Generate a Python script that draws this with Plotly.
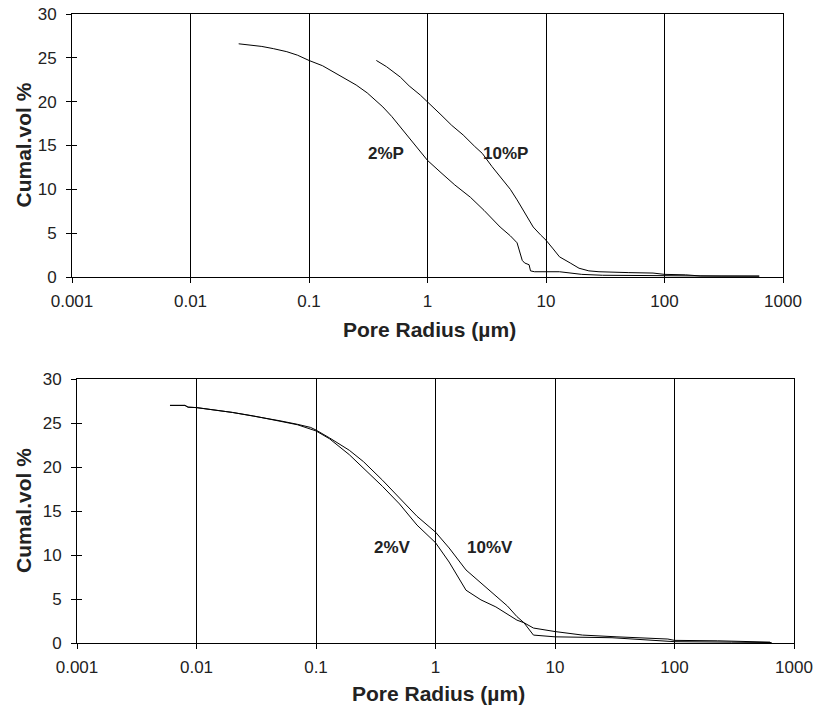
import plotly.graph_objects as go

# ---- data ----
p2_x = [0.0255, 0.03, 0.04, 0.05, 0.065, 0.08, 0.1, 0.13, 0.16, 0.2, 0.25, 0.31, 0.42, 0.5, 0.59, 0.7, 0.87,
        1.0, 1.3, 1.7, 2.3, 3.0, 4.1, 5.0, 5.7, 6.0, 6.3, 6.6, 7.2, 7.4, 8.0, 13, 16, 20, 30, 60, 100, 300, 630]
p2_y = [26.6, 26.5, 26.3, 26.05, 25.7, 25.3, 24.7, 24.1, 23.4, 22.7, 21.9, 21.0, 19.4, 18.3, 17.1, 15.8, 14.3,
        13.3, 11.9, 10.5, 9.1, 7.6, 5.7, 4.7, 3.9, 3.0, 1.9, 1.6, 1.4, 0.7, 0.6, 0.6, 0.45, 0.3, 0.2, 0.2, 0.15, 0.1, 0.1]

p10_x = [0.37, 0.45, 0.59, 0.7, 0.87, 1.0, 1.3, 1.6, 2.0, 2.5, 2.9, 3.5, 4.1, 5.0, 5.7, 6.8, 7.8, 9.0,
         10, 11.5, 13, 16, 19, 23, 28, 50, 80, 100, 150, 200, 630]
p10_y = [24.7, 24.0, 22.8, 21.8, 20.75, 20.0, 18.5, 17.3, 16.2, 14.9, 14.1, 12.6, 11.4, 10.0, 8.8, 7.0, 5.7, 4.8,
         4.2, 3.2, 2.3, 1.6, 1.0, 0.7, 0.6, 0.5, 0.45, 0.3, 0.25, 0.12, 0.1]

v2_x = [0.006, 0.008, 0.0085, 0.01, 0.02, 0.03, 0.05, 0.07, 0.1, 0.13, 0.19, 0.25, 0.36, 0.5, 0.7,
        1.0, 1.3, 1.8, 2.4, 3.2, 4.8, 5.5, 6.6, 10, 17, 33, 88, 100, 230, 630]
v2_y = [27.0, 27.0, 26.8, 26.75, 26.2, 25.8, 25.2, 24.8, 24.1, 23.2, 21.4, 19.9, 17.8, 15.8, 13.4,
        11.4, 9.2, 6.0, 4.9, 4.1, 2.6, 2.3, 1.7, 1.3, 0.9, 0.7, 0.45, 0.3, 0.25, 0.1]

v10_x = [0.006, 0.008, 0.0085, 0.01, 0.02, 0.03, 0.05, 0.07, 0.09, 0.1, 0.13, 0.19, 0.25, 0.36, 0.5, 0.7,
         1.0, 1.3, 1.8, 2.4, 3.2, 4.0, 4.8, 5.5, 6.6, 10, 30, 100, 300, 650]
v10_y = [27.0, 27.0, 26.8, 26.75, 26.2, 25.8, 25.25, 24.85, 24.5, 24.2, 23.3, 21.9, 20.6, 18.5, 16.5, 14.4,
         12.6, 10.8, 8.3, 6.8, 5.3, 4.2, 3.0, 2.3, 0.9, 0.7, 0.6, 0.15, 0.1, 0.05]

tick_vals = [0.001, 0.01, 0.1, 1, 10, 100, 1000]
tick_text = ["0.001", "0.01", "0.1", "1", "10", "100", "1000"]
y_vals = [0, 5, 10, 15, 20, 25, 30]

W, H = 815, 708
FONT = "Liberation Sans, Arial, sans-serif"

fig = go.Figure()
line = dict(color="black", width=1)
fig.add_trace(go.Scatter(x=p2_x, y=p2_y, mode="lines", line=line, xaxis="x", yaxis="y", hoverinfo="skip"))
fig.add_trace(go.Scatter(x=p10_x, y=p10_y, mode="lines", line=line, xaxis="x", yaxis="y", hoverinfo="skip"))
fig.add_trace(go.Scatter(x=v2_x, y=v2_y, mode="lines", line=line, xaxis="x2", yaxis="y2", hoverinfo="skip"))
fig.add_trace(go.Scatter(x=v10_x, y=v10_y, mode="lines", line=line, xaxis="x2", yaxis="y2", hoverinfo="skip"))
# invisible traces to carry the inside-tick overlay axes (cross ticks)
clear = dict(color="rgba(0,0,0,0)", width=0)
fig.add_trace(go.Scatter(x=p2_x, y=p2_y, mode="lines", line=clear, xaxis="x3", yaxis="y3", hoverinfo="skip"))
fig.add_trace(go.Scatter(x=v2_x, y=v2_y, mode="lines", line=clear, xaxis="x4", yaxis="y4", hoverinfo="skip"))

def xax(domain, anchor):
    return dict(type="log", range=[-3, 3], domain=domain, anchor=anchor, automargin=False,
                tickvals=tick_vals, ticktext=tick_text, ticks="outside", ticklen=5, tickcolor="black",
                showline=True, linecolor="black", linewidth=1, mirror=True,
                showgrid=True, gridcolor="black", gridwidth=1, zeroline=False,
                ticklabelstandoff=4,
                tickfont=dict(family=FONT, size=17, color="#222"))

def yax(domain, anchor):
    return dict(range=[0, 30], domain=domain, anchor=anchor, tickvals=y_vals, automargin=False,
                ticks="outside", ticklen=5, tickcolor="black",
                showline=True, linecolor="black", linewidth=1, mirror=True,
                showgrid=False, zeroline=False, ticklabelstandoff=6,
                tickfont=dict(family=FONT, size=17, color="#222"))

def xin(over, anchor):
    return dict(type="log", range=[-3, 3], overlaying=over, anchor=anchor, tickvals=tick_vals,
                ticks="inside", ticklen=5, tickcolor="black", showticklabels=False, automargin=False,
                showline=False, showgrid=False, zeroline=False)

def yin(over, anchor):
    return dict(range=[0, 30], overlaying=over, anchor=anchor, tickvals=y_vals, automargin=False,
                ticks="inside", ticklen=5, tickcolor="black", showticklabels=False,
                showline=False, showgrid=False, zeroline=False)

top_y = [1 - 277 / H, 1 - 14 / H]
bot_y = [1 - 643 / H, 1 - 379 / H]

fig.update_layout(
    width=W, height=H, margin=dict(l=0, r=0, t=0, b=0, pad=0), autosize=False,
    paper_bgcolor="white", plot_bgcolor="white", showlegend=False,
    font=dict(family=FONT, color="#222"),
    xaxis=xax([72 / W, 783 / W], "y"),
    yaxis=yax(top_y, "x"),
    xaxis2=xax([77 / W, 794 / W], "y2"),
    yaxis2=yax(bot_y, "x2"),
    xaxis3=xin("x", "y3"),
    yaxis3=yin("y", "x3"),
    xaxis4=xin("x2", "y4"),
    yaxis4=yin("y2", "x4"),
)

bold = dict(family=FONT, size=17, color="#222")
title_font = dict(family=FONT, size=21, color="#222")
annos = [
    dict(text="<b>2%P</b>", x=-0.35, y=14.1, xref="x", yref="y", font=bold),
    dict(text="<b>10%P</b>", x=0.66, y=14.1, xref="x", yref="y", font=bold),
    dict(text="<b>2%V</b>", x=-0.36, y=10.9, xref="x2", yref="y2", font=bold),
    dict(text="<b>10%V</b>", x=0.46, y=10.9, xref="x2", yref="y2", font=bold),
    dict(text="<b>Pore Radius (µm)</b>", x=430 / W, y=1 - 329 / H, xref="paper", yref="paper", font=title_font),
    dict(text="<b>Pore Radius (µm)</b>", x=438 / W, y=1 - 693 / H, xref="paper", yref="paper", font=title_font),
    dict(text="<b>Cumal.vol %</b>", x=23 / W, y=1 - 145.5 / H, xref="paper", yref="paper", textangle=-90, font=title_font),
    dict(text="<b>Cumal.vol %</b>", x=23 / W, y=1 - 511 / H, xref="paper", yref="paper", textangle=-90, font=title_font),
]
for a in annos:
    a.update(showarrow=False, xanchor="center", yanchor="middle")
fig.update_layout(annotations=annos)

fig.write_html("out.html", config={"displayModeBar": False},
               post_script="document.body.style.margin='0';document.body.style.padding='0';")
